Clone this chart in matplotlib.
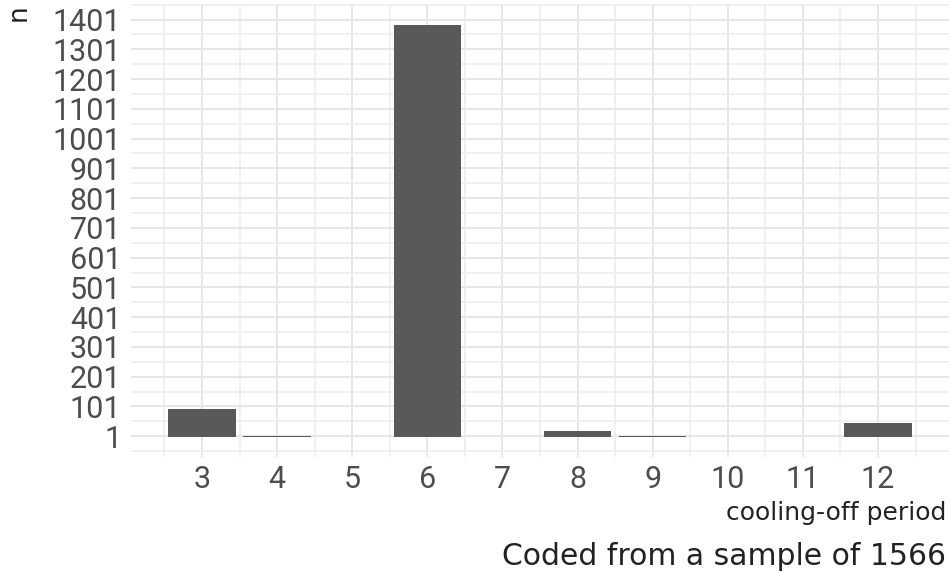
import numpy as np
import matplotlib
matplotlib.use("Agg")
import matplotlib.pyplot as plt
from matplotlib.ticker import FixedLocator

# -- Data ----------------------------------------------------------------------
periods = [3, 4, 6, 8, 9, 12]          # cooling-off period (months)
counts  = [93, 3, 1384, 18, 3, 46]     # n per period
x_ticks = list(range(3, 13))
y_ticks = list(range(1, 1402, 100))
caption = "Coded from a sample of 1566"

# -- Plot ----------------------------------------------------------------------
fig = plt.figure(figsize=(9.49, 5.75), dpi=100)
ax = fig.add_axes([0.138, 0.205, 0.862, 0.788])

ax.bar(periods, counts, width=0.9, color="#595959", zorder=3)

# ggplot-like continuous expansion (5%)
xlo, xhi = min(periods) - 0.45, max(periods) + 0.45
pad = (xhi - xlo) * 0.05
ax.set_xlim(xlo - pad, xhi + pad)
ypad = max(counts) * 0.05
ax.set_ylim(-ypad, max(counts) + ypad)

ax.xaxis.set_major_locator(FixedLocator(x_ticks))
ax.xaxis.set_minor_locator(FixedLocator([t + 0.5 for t in range(2, 13)]))
ax.yaxis.set_major_locator(FixedLocator(y_ticks))
ax.yaxis.set_minor_locator(FixedLocator([t + 50 for t in range(-99, 1402, 100)]))

ax.grid(which="major", color="#e6e6e6", linewidth=1.4, zorder=0)
ax.grid(which="minor", color="#eeeeee", linewidth=1.2, zorder=0)
for s in ax.spines.values():
    s.set_visible(False)
ax.tick_params(which="both", length=0)
ax.tick_params(axis="both", labelsize=22, labelcolor="#4d4d4d")
ax.tick_params(axis="y", pad=7)
ax.tick_params(axis="x", pad=6)
for lab in ax.get_xticklabels() + ax.get_yticklabels():
    lab.set_family("Roboto")

fig.text(0.006, 0.978, "n", rotation=90, fontsize=19, family="DejaVu Sans",
         ha="left", va="center", color="#222222")
fig.text(0.997, 0.108, "cooling-off period", fontsize=18, family="DejaVu Sans",
         ha="right", va="center", color="#222222")
fig.text(0.997, 0.032, caption, fontsize=21.5, family="DejaVu Sans",
         ha="right", va="center", color="#222222")

plt.savefig("out.png", dpi=100)
